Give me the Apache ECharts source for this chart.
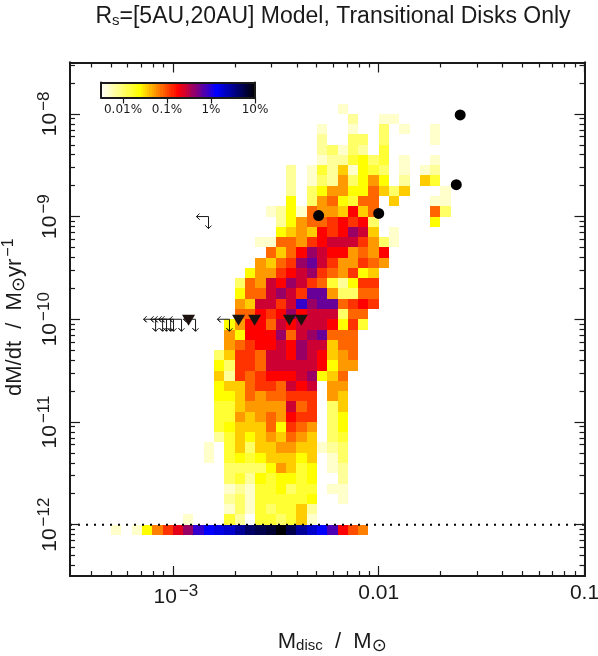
<!DOCTYPE html>
<html>
<head>
<meta charset="utf-8">
<style>
  html, body { margin: 0; padding: 0; background: #fff; }
  #chart { width: 598px; height: 656px; }
</style>
<script src="https://cdn.jsdelivr.net/npm/echarts@6/dist/echarts.min.js"></script>
</head>
<body>
<div id="chart"></div>
<script>
// all positions on the axes are log10 values
// heat map cells: colour level 0-20, 0 = empty cell
// level 0 is about 0.003 %, level 20 is 10 %
var firstBin = [26,27,24,24,24,24,21,21,21,21,19,20,20,18,19,18,17,16,16,16,16,15,15,15,14,14,14,14,14,14,14,14,14,13,13,15,15,15,15,15,11,4];
var firstRow = 4;
var levels = [
  [1],
  [2,0,0,1,1],
  [1,0,0,1,0,0,3,0,1,0,0,1],
  [2,0,0,3,3,0,3,0,0,0,0,1],
  [2,3,1,3,2,0,4],
  [1,2,2,4,5,3,4,0,1,0,0,1],
  [2,0,1,4,2,6,1,5,4,3,0,1,0,1,2],
  [2,0,1,3,2,7,3,5,7,5,0,2,0,6,4],
  [2,0,3,5,7,7,5,5,8,6,3,6,0,0,0,1],
  [5,0,3,7,8,5,4,8,8,0,6,0,0,0,1,1],
  [1,2,5,1,8,7,7,6,10,6,8,0,0,0,0,0,8,3],
  [2,5,7,8,8,9,10,9,10,3,0,0,0,0,0,5],
  [5,6,7,6,10,9,10,12,11,6,0,1],
  [1,1,8,8,7,9,10,11,11,11,9,7,3,1],
  [8,6,8,10,12,11,10,10,7,8,7,10],
  [7,6,8,9,12,13,11,9,7,7,9,8,7],
  [5,7,7,9,10,11,12,9,8,7,9,5,6],
  [3,8,7,11,10,12,11,9,8,4,2,5,9,9],
  [5,8,8,11,12,11,9,13,13,7,3,3,8,8],
  [7,6,11,11,9,11,14,12,13,13,8,9,10,9],
  [8,8,10,9,10,12,10,11,11,11,3,8,8],
  [5,7,10,10,8,11,10,11,11,11,10,5,9,4],
  [7,5,10,10,10,12,8,11,12,13,8,8,8],
  [7,8,9,10,10,11,10,12,11,11,6,8,8],
  [3,6,9,9,8,11,11,10,12,11,10,6,7,8],
  [5,3,9,9,8,11,11,11,11,11,10,5,7,7],
  [6,2,9,8,9,10,10,10,11,12,5,6,8],
  [5,6,6,8,9,9,8,11,10,11,0,7,7],
  [5,5,6,8,7,8,8,9,9,9,0,7,6],
  [4,4,6,7,7,7,7,11,8,9,0,3,6],
  [4,4,7,6,7,8,7,10,9,9,0,3,5],
  [4,5,6,6,6,8,5,9,8,7,0,3,5],
  [2,4,6,5,6,7,6,8,7,6,0,3,4],
  [1,0,4,6,3,6,6,7,7,6,6,1,2,3],
  [1,0,4,5,4,5,6,6,6,5,6,0,1,3],
  [3,3,3,3,5,7,6,4,5,0,1,2],
  [3,4,2,5,4,5,5,4,5,0,0,2],
  [1,2,1,4,4,5,3,4,4,0,1,1],
  [2,3,1,4,4,4,4,4,5,0,0,1],
  [1,3,1,4,3,4,4,6,2],
  [1,0,0,0,4,2,0,4,4,3,4,6,1],
  [1,0,1,5,7.5,9,10.5,12,14,15,15.5,16,17,18,18.5,19,20,18.5,17,16,15,13.5,10,8.5,7.5]
];

var limitX = [-3.084,-3.05,-3.031,-3.011,-2.997,-2.958,-2.89,-2.725,-2.827];
var limitY = [-10,-10,-10,-10,-10,-10,-10,-10,-9];
var triangleX = [-2.924,-2.681,-2.603,-2.434,-2.376];
var triangleY = [-10,-10,-10,-10,-10];
var circleX = [-1.604,-1.623,-2.0,-2.292];
var circleY = [-8.01,-8.69,-8.97,-8.99];

var xLabels = [-3,-2,-1];
var yLabels = [-8,-9,-10,-11,-12];
var barLabels = [-2,-1,0,1];
var barNames = {'-2':'0.01%','-1':'0.1%','0':'1%','1':'10%'};

var xMin = -3.5, xMax = -1, yMin = -12.5, yMax = -7.5;
var binW = 0.05, binH = 0.1;

function minorTicks(lo, hi) {
  var out = [];
  for (var d = Math.floor(lo); d < Math.ceil(hi); d++) {
    for (var k = 2; k <= 9; k++) {
      var v = d + Math.log10(k);
      if (v > lo && v < hi) out.push(v);
    }
  }
  return out;
}
function majorTicks(lo, hi) {
  var out = [];
  for (var d = Math.ceil(lo); d <= Math.floor(hi); d++) out.push(d);
  return out;
}

var cells = [];
levels.forEach(function (row, r) {
  row.forEach(function (lev, c) {
    if (lev > 0) {
      var i = firstBin[r] + c;
      cells.push([xMin + i * binW, yMax - (r + firstRow) * binH, lev]);
    }
  });
});

// colour bar stripes, 0.05 dex wide
var stripes = [];
for (var s = 0; s < 70; s++) {
  stripes.push([-2.5 + s * 0.05, 1, (s + 0.5) / 70 * 20]);
}

function pairs(a, b) {
  return a.map(function (v, i) { return [v, b[i]]; });
}

var inkColor = '#1a1a1a';
var textFont = 'Liberation Sans';

function cellRender(w, h) {
  return function (params, api) {
    var a = api.coord([api.value(0), api.value(1)]);
    var b = api.coord([api.value(0) + w, api.value(1) - h]);
    var x0 = Math.round(a[0]), y0 = Math.round(a[1]);
    return {
      type: 'rect',
      shape: { x: x0, y: y0, width: Math.round(b[0]) - x0, height: Math.round(b[1]) - y0 },
      style: { fill: api.visual('color') }
    };
  };
}

function limitRender(params, api) {
  var p = api.coord([api.value(0), api.value(1)]);
  var x = p[0], y = p[1], arm = 12, head = 3;
  return {
    type: 'polyline',
    shape: { points: [[x - arm + head, y - head], [x - arm, y], [x - arm + head, y + head], [x - arm, y], [x, y], [x, y + arm], [x - head, y + arm - head], [x, y + arm], [x + head, y + arm - head]] },
    style: { stroke: inkColor, lineWidth: 1, fill: 'none' }
  };
}

function frameX(grid, pos, ticks, len, min, max, labels, extra) {
  var ax = {
    type: 'value', gridIndex: grid, position: pos, min: min, max: max, interval: 0.5, z: 5,
    splitLine: { show: false },
    axisLine: { show: true, onZero: false, lineStyle: { color: inkColor, width: 2 } },
    axisTick: { show: true, inside: len > 0, length: Math.abs(len), customValues: ticks, lineStyle: { color: inkColor, width: 1.2 } },
    axisLabel: { show: false }
  };
  return Object.assign(ax, extra || {});
}

var rich = {
  b: { fontFamily: textFont, fontSize: 21, color: inkColor },
  n: { fontFamily: textFont, fontSize: 22, color: inkColor },
  p: { fontFamily: textFont, fontSize: 21, color: inkColor, padding: [0, 0, 0, 6] },
  s: { fontFamily: textFont, fontSize: 17, color: inkColor, padding: [0, 0, 12, 2] },
  d: { fontFamily: textFont, fontSize: 15, color: inkColor, padding: [9, 0, 0, 0] },
  o: { fontFamily: 'DejaVu Sans', fontSize: 18, color: inkColor, padding: [9, 0, 0, 0] },
  u: { fontFamily: textFont, fontSize: 16, color: inkColor, padding: [0, 0, 12, 2] }
};

var xAxes = [
  frameX(0, 'bottom', majorTicks(xMin, xMax), 10, xMin, xMax, null, {
    name: '{n|M}{d|disc}{n|  /  M}{o|\u2299}', nameLocation: 'middle', nameGap: 52,
    nameTextStyle: { rich: rich, padding: [0, 0, 0, 10] },
    axisLabel: {
      show: true, margin: 7, customValues: xLabels,
      showMinLabel: true, showMaxLabel: true, hideOverlap: false, rich: rich,
      formatter: function (v) {
        if (v === -3) return '{p|10}{s|\u22123}';
        return '{b|' + Math.pow(10, v).toFixed(-v) + '}';
      }
    }
  }),
  frameX(0, 'top', majorTicks(xMin, xMax), 10, xMin, xMax),
  frameX(1, 'bottom', minorTicks(xMin, xMax), 5, xMin, xMax),
  frameX(1, 'top', minorTicks(xMin, xMax), 5, xMin, xMax),
  frameX(2, 'bottom', barLabels, -6, -2.5, 1, null, {
    axisLabel: {
      show: true, margin: 6, customValues: barLabels, showMaxLabel: true, hideOverlap: false,
      fontFamily: 'DejaVu Sans', fontSize: 12, color: inkColor,
      formatter: function (v) { return barNames[v]; }
    }
  }),
  frameX(2, 'top', [], 0, -2.5, 1)
];

var yAxes = [
  frameX(0, 'left', majorTicks(yMin, yMax), 10, yMin, yMax, null, {
    name: '{n|dM/dt  /  M}{o|\u2299}{n|yr}{u|\u22121}', nameLocation: 'middle', nameGap: 36, nameRotate: 90,
    nameTextStyle: { rich: rich, padding: [0, 0, 0, 4] },
    axisLabel: {
      show: true, rotate: 90, margin: 5, customValues: yLabels, hideOverlap: false, rich: rich,
      formatter: function (v) { return '{b|10}{s|\u2212' + (-v) + '}'; }
    }
  }),
  frameX(0, 'right', majorTicks(yMin, yMax), 10, yMin, yMax),
  frameX(1, 'left', minorTicks(yMin, yMax), 5, yMin, yMax),
  frameX(1, 'right', minorTicks(yMin, yMax), 5, yMin, yMax),
  frameX(2, 'left', [], 0, 0, 1),
  frameX(2, 'right', [], 0, 0, 1)
];

var frame = { left: 70, top: 62.5, width: 514.5, height: 513.5, outerBoundsMode: 'none' };

var myChart = echarts.init(document.getElementById('chart'), null, { renderer: 'canvas' });
myChart.setOption({
  animation: false,
  backgroundColor: '#fff',
  title: {
    text: '{t|R}{ts|s}{t|=[5AU,20AU] Model, Transitional Disks Only}',
    left: 328, top: 0, textAlign: 'center',
    textStyle: {
      rich: {
        t: { fontFamily: textFont, fontSize: 23, fontWeight: 'normal', color: inkColor },
        ts: { fontFamily: textFont, fontSize: 15, fontWeight: 'normal', color: inkColor, padding: [8, 0, 0, 0] }
      }
    }
  },
  grid: [
    frame,
    frame,
    { left: 101, top: 82.5, width: 154, height: 15, outerBoundsMode: 'none' }
  ],
  xAxis: xAxes,
  yAxis: yAxes,
  visualMap: {
    show: false, type: 'continuous', min: 0, max: 20, dimension: 2, seriesIndex: [0, 1],
    inRange: { color: ['#ffffff', '#ffff00', '#ff0000', '#0000ff', '#000000'] }
  },
  series: [
    {
      type: 'custom', coordinateSystem: 'cartesian2d', xAxisIndex: 0, yAxisIndex: 0,
      data: cells, encode: { x: 0, y: 1 }, renderItem: cellRender(binW, binH), z: 2, silent: true
    },
    {
      type: 'custom', coordinateSystem: 'cartesian2d', xAxisIndex: 4, yAxisIndex: 4,
      data: stripes, encode: { x: 0, y: 1 }, renderItem: cellRender(0.05, 1), z: 2, silent: true
    },
    {
      type: 'line', xAxisIndex: 0, yAxisIndex: 0, symbol: 'none', z: 3, silent: true,
      data: [[xMin, -12], [xMax, -12]],
      lineStyle: { color: '#000', width: 2, type: [2, 6] }
    },
    {
      type: 'custom', coordinateSystem: 'cartesian2d', xAxisIndex: 0, yAxisIndex: 0,
      data: pairs(limitX, limitY), encode: { x: 0, y: 1 }, renderItem: limitRender, z: 4, silent: true
    },
    {
      type: 'scatter', xAxisIndex: 0, yAxisIndex: 0, symbol: 'triangle', symbolRotate: 180, symbolSize: [13, 11], symbolOffset: [0, 1],
      data: pairs(triangleX, triangleY), itemStyle: { color: '#1c1210', opacity: 1 }, z: 5, silent: true
    },
    {
      type: 'scatter', xAxisIndex: 0, yAxisIndex: 0, symbol: 'circle', symbolSize: 11,
      data: pairs(circleX, circleY), itemStyle: { color: '#000', opacity: 1 }, z: 5, silent: true
    }
  ]
});
window.onresize = function () { myChart.resize(); };
</script>
</body>
</html>
